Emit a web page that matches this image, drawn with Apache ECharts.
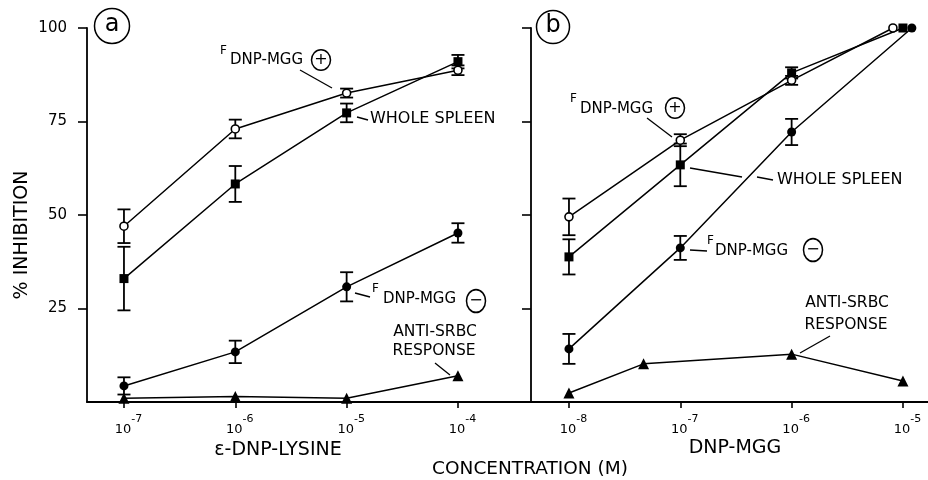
<!DOCTYPE html>
<html>
<head>
<meta charset="utf-8">
<script src="https://cdn.jsdelivr.net/npm/echarts@6/dist/echarts.min.js"></script>
<style>html,body{margin:0;padding:0;background:#fff}#c{width:928px;height:480px}</style>
</head>
<body>
<div id="c"></div>
<script>
// ---------- data (x = log10 of concentration, M) ----------
// Panel a : epsilon-DNP-lysine
const xA = [-7, -6, -5, -4];
const plusA = [47, 73, 82.6, 88.7];
const plusAErr = [4.5, 2.5, 1.2, 1.3];
const wholeA = [33, 58.3, 77.3, 91];
const wholeAErr = [8.5, 4.8, 2.5, 1.8];
const minusA = [4.3, 13.4, 30.8, 45.2];
const minusAErr = [2.3, 3.0, 3.9, 2.6];
const srbcA = [1, 1.5, 1, 7];

// Panel b : DNP-MGG
const xPlusB = [-8, -7, -6, -5.09];
const plusB = [49.5, 70, 86, 100];
const plusBErr = [4.9, 1.6, 1.2, 0];
const xWholeB = [-8, -7, -6, -5];
const wholeB = [38.8, 63.4, 88, 100];
const wholeBErr = [4.7, 5.7, 1.5, 0];
const xMinusB = [-8, -7, -6, -4.92];
const minusB = [14.2, 41.2, 72.2, 100];
const minusBErr = [4.0, 3.2, 3.5, 0];
const xSrbcB = [-8, -7.33, -6, -5];
const srbcB = [2.4, 10.2, 12.8, 5.6];

const ticksA = [-7, -6, -5, -4];
const ticksB = [-8, -7, -6, -5];
const yTicks = [25, 50, 75, 100];

// ---------- helpers ----------
const FONT = 'DejaVu Sans';
const pairs = (xs, ys) => xs.map((x, i) => [x, ys[i]]);
const errs = (xs, ys, es) => xs.map((x, i) => [x, ys[i] - es[i], ys[i] + es[i]]).filter((d, i) => es[i] > 0);

function errSeries(idx, data) {
  return {
    type: 'custom', xAxisIndex: idx, yAxisIndex: idx, data: data,
    encode: {x: 0, y: [1, 2]}, z: 2, silent: true,
    renderItem(params, api) {
      const x = api.value(0), lo = api.value(1), hi = api.value(2);
      const a = api.coord([x, lo]), b = api.coord([x, hi]);
      const w = 6.5, st = {stroke: '#000', lineWidth: 1.8};
      return {type: 'group', children: [
        {type: 'line', shape: {x1: a[0], y1: a[1], x2: b[0], y2: b[1]}, style: st},
        {type: 'line', shape: {x1: a[0] - w, y1: a[1], x2: a[0] + w, y2: a[1]}, style: st},
        {type: 'line', shape: {x1: b[0] - w, y1: b[1], x2: b[0] + w, y2: b[1]}, style: st}
      ]};
    }
  };
}
function lineSeries(idx, data, symbol, size) {
  const open = symbol === 'emptyCircle';
  return {
    type: 'line', xAxisIndex: idx, yAxisIndex: idx, data: data,
    symbol: open ? 'circle' : symbol, symbolSize: size, showSymbol: true, z: 3,
    lineStyle: {color: '#000', width: 1.5},
    itemStyle: {color: open ? '#fff' : '#000', borderColor: '#000', borderWidth: open ? 1.6 : 0},
    emphasis: {disabled: true}, animation: false
  };
}
function xAxis(idx, min, max, ticks) {
  return {
    type: 'value', gridIndex: idx, min: min, max: max,
    axisLine: {lineStyle: {color: '#000', width: 1.8}},
    axisTick: {customValues: ticks, length: 6, lineStyle: {color: '#000', width: 1.6}},
    splitLine: {show: false},
    axisLabel: {
      customValues: ticks, margin: 12, color: '#000',
      formatter: v => '{p|}{b|10}{s|' + String(v) + '}',
      rich: {
        p: {width: 9},
        b: {fontFamily: FONT, fontSize: 13, lineHeight: 22, verticalAlign: 'bottom', color: '#000'},
        s: {fontFamily: FONT, fontSize: 11, lineHeight: 12, verticalAlign: 'top', color: '#000'}
      }
    }
  };
}
function yAxis(idx, showLabels) {
  return {
    type: 'value', gridIndex: idx, min: 0, max: 100,
    axisLine: {show: true, lineStyle: {color: '#000', width: 1.8}},
    axisTick: {show: true, customValues: yTicks, length: 9, lineStyle: {color: '#000', width: 1.6}},
    splitLine: {show: false},
    axisLabel: {show: showLabels, customValues: yTicks, margin: 20, color: '#000',
      fontFamily: FONT, fontSize: 15}
  };
}

// ---------- annotations ----------
const T = (x, y, text, size, align, vAlign, extra) => Object.assign({
  type: 'text', x: x, y: y, silent: true,
  style: {text: text, fontFamily: FONT, fontSize: size, fill: '#000',
    align: align || 'left', verticalAlign: vAlign || 'middle'}
}, extra || {});
const L = (x1, y1, x2, y2) => ({type: 'line', silent: true,
  shape: {x1, y1, x2, y2}, style: {stroke: '#000', lineWidth: 1.3}});
const C = (cx, cy, r, sy, w) => ({type: 'circle', x: cx, y: cy, scaleY: sy || 1, silent: true,
  shape: {cx: 0, cy: 0, r: r}, style: {fill: 'none', stroke: '#000', lineWidth: w || 1.5}});
function fLabel(fx, fy, dx, dy, cx, cy, sign, sy) {
  return [
    T(fx, fy, 'F', 12, 'left', 'top'),
    T(dx, dy, 'DNP-MGG', 15, 'left', 'middle'),
    C(cx, cy, 9.5, sy, 1.5),
    T(cx, cy, sign, 16, 'center', 'middle')
  ];
}

const graphic = [].concat(
  // panel labels
  [C(112, 26, 17.5, 1, 1.5), T(112, 25, 'a', 24, 'center', 'middle'),
   C(553, 27, 16.5, 1, 1.5), T(553, 26, 'b', 24, 'center', 'middle')],
  // panel a
  fLabel(220, 45, 230, 60, 321, 60, '+', 1.08),
  [L(300, 70, 332, 88)],
  [T(370, 119, 'WHOLE SPLEEN', 16), L(357, 117, 368, 120)],
  fLabel(372, 283, 383, 299, 476, 301, '\u2212', 1.2),
  [L(355, 293, 370, 297)],
  [T(435, 332, 'ANTI-SRBC', 15.5, 'center'), T(434, 351, 'RESPONSE', 15.5, 'center'), L(435, 363, 450, 375)],
  // panel b
  fLabel(570, 93, 580, 109, 675, 108, '+', 1.08),
  [L(647, 118, 672, 137)],
  [T(777, 180, 'WHOLE SPLEEN', 16), L(690, 168, 742, 177), L(757, 177, 773, 180)],
  fLabel(707, 235, 715, 251, 813, 250, '\u2212', 1.2),
  [L(690, 250, 707, 251)],
  [T(847, 303, 'ANTI-SRBC', 15.5, 'center'), T(846, 325, 'RESPONSE', 15.5, 'center'), L(830, 336, 800, 353)],
  // axis titles
  [T(22, 235, '% INHIBITION', 19, 'center', 'middle', {rotation: Math.PI / 2}),
   T(278, 450, '\u03b5-DNP-LYSINE', 19, 'center'),
   T(735, 448, 'DNP-MGG', 19, 'center'),
   T(530, 469, 'CONCENTRATION (M)', 18.5, 'center')]
);

const chart = echarts.init(document.getElementById('c'), null, {renderer: 'canvas'});
chart.setOption({
  animation: false,
  backgroundColor: '#fff',
  grid: [
    {left: 87, top: 28, width: 444, height: 374},
    {left: 531, top: 28, width: 397, height: 374}
  ],
  xAxis: [xAxis(0, -7.332, -3.344, ticksA), xAxis(1, -8.341, -4.775, ticksB)],
  yAxis: [yAxis(0, true), yAxis(1, false)],
  series: [
    errSeries(0, errs(xA, plusA, plusAErr)),
    errSeries(0, errs(xA, wholeA, wholeAErr)),
    errSeries(0, errs(xA, minusA, minusAErr)),
    lineSeries(0, pairs(xA, srbcA), 'triangle', 11),
    lineSeries(0, pairs(xA, minusA), 'circle', 9),
    lineSeries(0, pairs(xA, wholeA), 'rect', 9),
    lineSeries(0, pairs(xA, plusA), 'emptyCircle', 8),

    errSeries(1, errs(xPlusB, plusB, plusBErr)),
    errSeries(1, errs(xWholeB, wholeB, wholeBErr)),
    errSeries(1, errs(xMinusB, minusB, minusBErr)),
    lineSeries(1, pairs(xSrbcB, srbcB), 'triangle', 11),
    lineSeries(1, pairs(xMinusB, minusB), 'circle', 9),
    lineSeries(1, pairs(xWholeB, wholeB), 'rect', 9),
    lineSeries(1, pairs(xPlusB, plusB), 'emptyCircle', 8)
  ],
  graphic: graphic
});
</script>
</body>
</html>
